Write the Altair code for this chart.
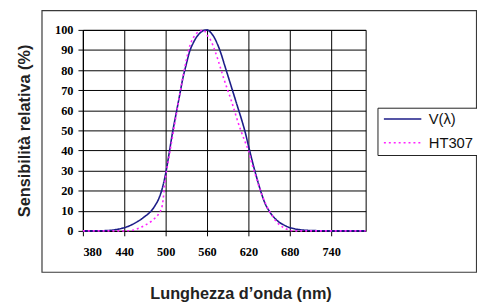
import altair as alt
import pandas as pd

# ---- data ----
wavelength = [380, 390, 400, 410, 420, 430, 440, 450, 460, 470, 480,
              485, 490, 495, 500, 505, 510, 515, 520, 525, 530, 535, 540, 545,
              550, 555, 560, 565, 570, 575, 580, 585, 590, 595, 600, 605, 610,
              615, 620, 625, 630, 635, 640, 645, 650, 655, 660, 665, 670, 675,
              680, 685, 690, 695, 700,
              710, 720, 730, 740, 750, 760, 770, 780, 790]

v_lambda = [0, 0, 0.05, 0.1, 0.3, 0.8, 1.6, 2.9, 4.8, 7.2, 10.3,
            12.8, 16, 21, 28.5, 38.5, 49, 58, 67, 76, 83, 89.5, 93.5, 96.5,
            98.5, 99.7, 100, 98.8, 96.5, 93, 88.5, 83, 77.5, 72, 66.5, 61, 55.5,
            49.5, 42.5, 35.5, 29, 23, 17.5, 13, 10, 7.5, 5.7, 4.2, 3.2, 2.3,
            1.6, 1.2, 0.8, 0.6, 0.4,
            0.2, 0.1, 0.05, 0, 0, 0, 0, 0, 0]

ht307 = [0, 0, 0, 0, 0, 0, 0, 0.2, 1.2, 2.8, 5,
         6.5, 8.5, 12.5, 27, 37, 47, 57, 67, 76.5, 85, 92, 96, 98.3,
         99.4, 100, 97.5, 95, 91, 86, 80.5, 75, 70, 65, 59.5, 54, 49,
         44.5, 40, 33.5, 28, 22.5, 17.5, 13.5, 10, 7.3, 4.8, 3, 1.8, 0.9,
         0.3, 0, 0, 0, 0,
         0, 0, 0, 0, 0, 0, 0, 0, 0]

series_names = ["V(λ)", "HT307"]
series_colors = ["#1c1c88", "#ff22ff"]
series_dash = [[1, 0], [2, 3]]

x_ticks = [380, 440, 500, 560, 620, 680, 740]
y_ticks = [0, 10, 20, 30, 40, 50, 60, 70, 80, 90, 100]

df = pd.concat([
    pd.DataFrame({"wl": wavelength, "val": v_lambda, "serie": series_names[0]}),
    pd.DataFrame({"wl": wavelength, "val": ht307, "serie": series_names[1]}),
])

legend = alt.Legend(
    title=None, orient="none", legendX=299, legendY=79,
    symbolType="M-1,0H6.6", symbolSize=100, symbolStrokeWidth=1.5,
    labelFont="Liberation Sans", labelFontSize=15, labelColor="#111111",
    labelOffset=33, strokeColor="#222222", fillColor="white",
    padding=4, rowPadding=8,
)

lines = alt.Chart(df).mark_line(interpolate="monotone", strokeWidth=1.6).encode(
    x=alt.X("wl:Q",
            scale=alt.Scale(domain=[380, 790], nice=False, zero=False),
            axis=alt.Axis(values=x_ticks, format="d",
                          title="Lunghezza d’onda (nm)",
                          titleX=160, titleY=64, titleAlign="center",
                          titleBaseline="middle", labelPadding=10)),
    y=alt.Y("val:Q",
            scale=alt.Scale(domain=[0, 100], nice=False),
            axis=alt.Axis(values=y_ticks, format="d",
                          title="Sensibilità relativa (%)",
                          titleAngle=270, titleX=-59, titleY=102,
                          titleAlign="center", titleBaseline="middle",
                          labelPadding=5)),
    color=alt.Color("serie:N",
                    scale=alt.Scale(domain=series_names, range=series_colors),
                    legend=legend),
    strokeDash=alt.StrokeDash("serie:N",
                              scale=alt.Scale(domain=series_names, range=series_dash),
                              legend=legend),
)

frame = alt.Chart(pd.DataFrame({"k": [0]})).mark_rect(
    fillOpacity=0, stroke="#3a3a3a", strokeWidth=1.2
).encode(
    x=alt.value(-41.5), x2=alt.value(399.5),
    y=alt.value(-19.5), y2=alt.value(246),
)

chart = alt.layer(frame, lines).properties(
    width=287, height=204,
    autosize=alt.AutoSizeParams(type="none"),
    padding={"left": 76, "top": 20, "right": 113, "bottom": 72},
).configure_axis(
    labelFont="Liberation Serif", labelFontSize=12.5, labelFontWeight="bold",
    labelColor="#000000", tickColor="#000000", tickSize=5, tickWidth=1,
    domainColor="#000000", domainWidth=1,
    gridColor="#000000", gridOpacity=1, gridWidth=1,
    titleFont="Liberation Sans", titleFontSize=16.5, titleFontWeight="bold",
    titleColor="#222222",
).configure_view(
    stroke="#000000", strokeWidth=1,
)

chart.save("out.html", embed_options={"renderer": "svg", "actions": False})
